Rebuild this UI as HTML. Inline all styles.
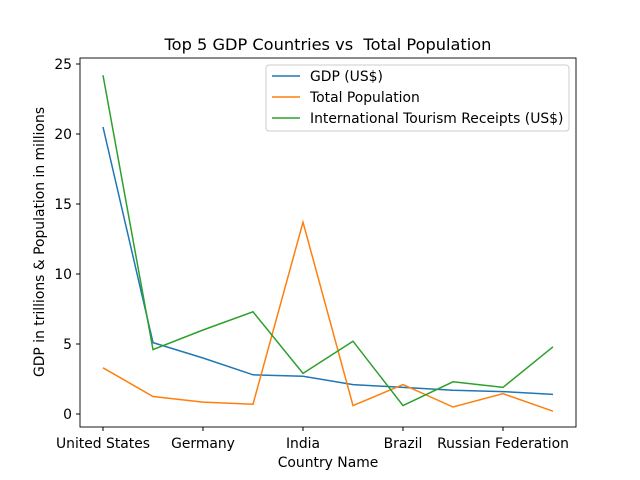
<!DOCTYPE html>
<html><head><meta charset="utf-8"><style>
body{margin:0;background:#fff;}
svg{display:block;font-family:"DejaVu Sans","Liberation Sans",sans-serif;}
text{white-space:pre;}
</style></head><body>
<svg id="chart" width="640" height="480">
<rect width="640" height="480" fill="#fff"/>
<text x="328" y="50" font-size="16.2" text-anchor="middle" xml:space="preserve">Top 5 GDP Countries vs  Total Population</text>
<g id="plot"></g>
<rect x="80" y="58" width="496" height="369" fill="none" stroke="#000" stroke-width="0.9"/>
<text x="328" y="467" font-size="13.9" text-anchor="middle">Country Name</text>
<text transform="translate(44,242) rotate(-90)" font-size="13.9" text-anchor="middle">GDP in trillions &amp; Population in millions</text>
<g>
<rect x="266" y="65" width="303" height="66" rx="3" fill="#fff" fill-opacity="0.8" stroke="#ccc"/>
<line x1="272" y1="76" x2="300" y2="76" stroke="#1f77b4" stroke-width="1.5"/>
<text x="310" y="81" font-size="13.9">GDP (US$)</text>
<line x1="272" y1="97" x2="300" y2="97" stroke="#ff7f0e" stroke-width="1.5"/>
<text x="310" y="102" font-size="13.9">Total Population</text>
<line x1="272" y1="118" x2="300" y2="118" stroke="#2ca02c" stroke-width="1.5"/>
<text x="310" y="123" font-size="13.9">International Tourism Receipts (US$)</text>
</g>
</svg>
<script>
const xTickLabels = ["United States","Germany","India","Brazil","Russian Federation"];
const yTicks = [0,5,10,15,20,25];
const gdp = [20.5,5.1,4.0,2.8,2.7,2.1,1.9,1.7,1.6,1.4];
const population = [3.3,1.25,0.85,0.7,13.7,0.6,2.1,0.5,1.45,0.2];
const tourism = [24.2,4.6,6.0,7.3,2.9,5.2,0.6,2.3,1.9,4.8];

const NS="http://www.w3.org/2000/svg";
const g=document.getElementById('plot');
const xs=i=>103+50*i;
const ys=v=>414-14*v;
function mk(t,a){const e=document.createElementNS(NS,t);for(const k in a)e.setAttribute(k,a[k]);g.appendChild(e);return e;}
yTicks.forEach(v=>{
  const t=mk('line',{x1:76,x2:80,y1:ys(v),y2:ys(v),stroke:'#000'});
  
  
  const l=mk('text',{x:72,y:ys(v)+5,'font-size':13.9,'text-anchor':'end'});
  l.textContent=v;
  
  
});
xTickLabels.forEach((s,i)=>{
  const t=mk('line',{x1:xs(2*i),x2:xs(2*i),y1:427,y2:431,stroke:'#000'});
  
  
  const l=mk('text',{x:xs(2*i),y:448,'font-size':13.9,'text-anchor':'middle'});
  l.textContent=s;
  
  
});
function line(arr,color,name){
  const p=mk('polyline',{points:arr.map((v,i)=>xs(i)+','+ys(v)).join(' '),fill:'none',stroke:color,'stroke-width':1.5});
  
  
}
line(gdp,'#1f77b4','gdp-line');
line(population,'#ff7f0e','population-line');
line(tourism,'#2ca02c','tourism-line');
</script>
</body></html>
